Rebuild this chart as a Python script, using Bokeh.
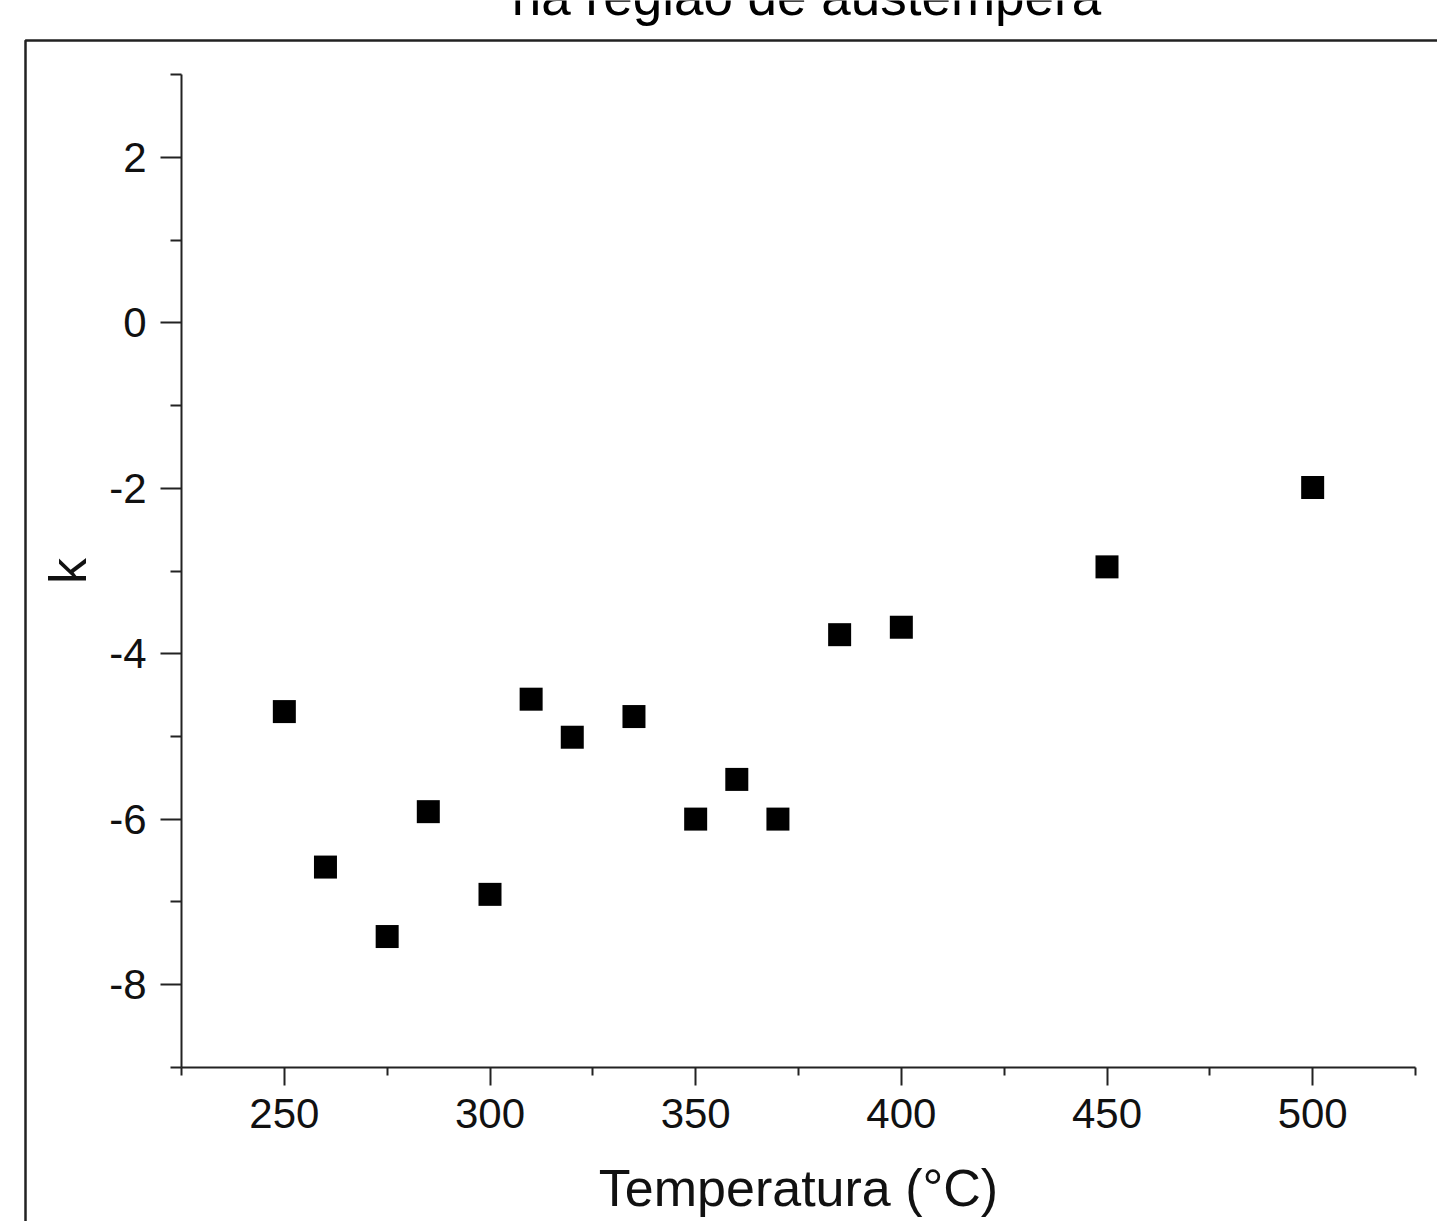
from bokeh.plotting import figure
from bokeh.models import Range1d, FixedTicker, BoxAnnotation, Label, LinearAxis, PrintfTickFormatter
from bokeh.embed import file_html
from bokeh.resources import INLINE

# data
temperatura = [250, 260, 275, 285, 300, 310, 320, 335, 350, 360, 370, 385, 400, 450, 500]
k_values = [-4.70, -6.58, -7.42, -5.91, -6.91, -4.55, -5.01, -4.76, -6.00, -5.52, -6.00, -3.77, -3.68, -2.95, -1.99]

x_bounds = (225, 525)
y_bounds = (-9, 3)
x_major = [250, 300, 350, 400, 450, 500]
x_minor = [225, 275, 325, 375, 425, 475, 525]
y_major = [-8, -6, -4, -2, 0, 2]
y_minor = [-9, -7, -5, -3, -1, 1, 3]

title_text = "na região de austêmpera"
x_label = "Temperatura (°C)"
y_label = "k"

FONT = "Liberation Sans"
AX = "#222222"

W, H = 1437, 1221
# pixel geometry of the axes box inside the page
AX_LEFT, AX_RIGHT, AX_TOP, AX_BOTTOM = 181, 1415, 74.3, 1066.7
sx = (AX_RIGHT - AX_LEFT) / (x_bounds[1] - x_bounds[0])
sy = (AX_BOTTOM - AX_TOP) / (y_bounds[1] - y_bounds[0])
x0 = x_bounds[0] - AX_LEFT / sx
x1 = x_bounds[1] + (W - AX_RIGHT) / sx
y1 = y_bounds[1] + AX_TOP / sy
y0 = y_bounds[0] - (H - AX_BOTTOM) / sy

def px_to_x(px):
    return x0 + px / sx

def py_to_y(py):
    return y1 - py / sy

p = figure(width=W, height=H, output_backend="svg", toolbar_location=None,
           x_range=Range1d(x0, x1), y_range=Range1d(y0, y1),
           x_axis_location=None, y_axis_location=None,
           min_border=0, min_border_left=0, min_border_right=0, min_border_top=0, min_border_bottom=0)
p.background_fill_color = "white"
p.border_fill_color = "white"
p.outline_line_color = None
p.grid.visible = False

xaxis = LinearAxis(fixed_location=y_bounds[0], bounds=x_bounds,
                   ticker=FixedTicker(ticks=x_major, minor_ticks=x_minor),
                   formatter=PrintfTickFormatter(format="%d"))
yaxis = LinearAxis(fixed_location=x_bounds[0], bounds=y_bounds,
                   ticker=FixedTicker(ticks=y_major, minor_ticks=y_minor),
                   formatter=PrintfTickFormatter(format="%d"))

for ax in (xaxis, yaxis):
    ax.axis_line_color = AX
    ax.axis_line_width = 2
    ax.major_tick_line_color = AX
    ax.major_tick_line_width = 2
    ax.minor_tick_line_color = AX
    ax.minor_tick_line_width = 2
    ax.major_tick_in = 0
    ax.minor_tick_in = 0
    ax.major_label_text_font = FONT
    ax.major_label_text_font_size = "42px"
    ax.major_label_text_color = "#111111"
    ax.axis_label_text_font = FONT
    ax.axis_label_text_font_size = "52px"
    ax.axis_label_text_font_style = "normal"
    ax.axis_label_text_color = "#111111"

xaxis.major_tick_out = 18
xaxis.minor_tick_out = 8
xaxis.major_label_standoff = 14
xaxis.axis_label = x_label
xaxis.axis_label_standoff = 27

yaxis.major_tick_out = 21
yaxis.minor_tick_out = 11
yaxis.major_label_standoff = 14
yaxis.axis_label = y_label
yaxis.axis_label_standoff = 9

p.add_layout(xaxis, "below")
p.add_layout(yaxis, "left")

p.scatter(temperatura, k_values, marker="square", size=23, fill_color="black", line_color=None)

# outer frame box (extends beyond the right and bottom edges)
frame = BoxAnnotation(left=px_to_x(25), right=px_to_x(W + 60), top=py_to_y(40), bottom=py_to_y(H + 60),
                      fill_alpha=0, line_color=AX, line_alpha=1.0, line_width=2.5)
p.add_layout(frame)

title = Label(x=px_to_x(806), y=py_to_y(-4), text=title_text, text_font=FONT, text_font_size="53px",
              text_align="center", text_baseline="alphabetic", text_color="black")
p.add_layout(title)

open("out.html", "w").write(file_html(p, INLINE))
